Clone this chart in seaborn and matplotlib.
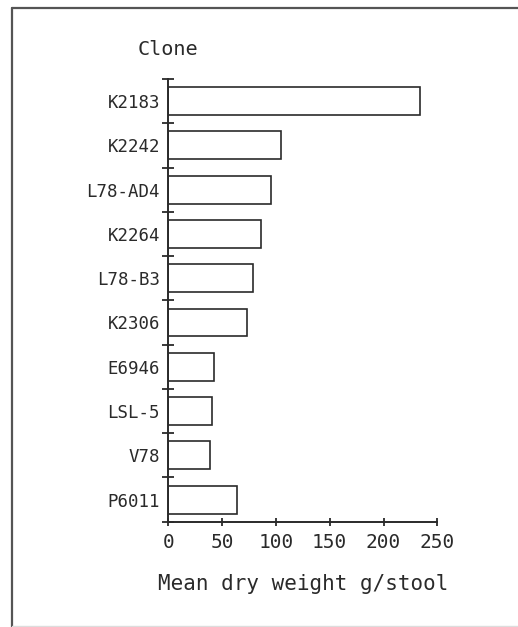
import matplotlib
matplotlib.use("Agg")
import matplotlib.pyplot as plt
from matplotlib.lines import Line2D
import seaborn as sns
import pandas as pd

clones = ["K2183", "K2242", "L78-AD4", "K2264", "L78-B3",
          "K2306", "E6946", "LSL-5", "V78", "P6011"]
dry_weight = [234, 105, 95, 86.5, 78.5, 73, 42.5, 40.5, 38.5, 64]
x_ticks = [0, 50, 100, 150, 200, 250]

df = pd.DataFrame({"clone": clones, "weight": dry_weight})

sns.set_theme(style="white")
plt.rcParams["font.family"] = ["DejaVu Sans Mono", "DejaVu Sans"]
ink = "#2a2a2a"

fig = plt.figure(figsize=(5.18, 6.27), dpi=100)
ax = fig.add_axes([168.3 / 518, 105.3 / 627, 269 / 518, 442.7 / 627])

sns.barplot(data=df, x="weight", y="clone", orient="h", color="white",
            edgecolor=ink, linewidth=1.2, width=0.63, saturation=1, ax=ax)

ax.set_xlim(0, 250)
ax.set_ylim(9.5, -0.5)
for s in ["top", "right"]:
    ax.spines[s].set_visible(False)
for s in ["left", "bottom"]:
    ax.spines[s].set_color(ink)
    ax.spines[s].set_linewidth(1.4)

ax.set_xticks(x_ticks)
ax.set_xticklabels([str(t) for t in x_ticks])
ax.tick_params(axis="x", direction="inout", length=6, width=1.3, color=ink,
               labelsize=14, labelcolor=ink, pad=5, bottom=True)
# category labels at bar centres, tick marks at the boundaries between bars
ax.tick_params(axis="y", which="major", length=0, labelsize=12.5,
               labelcolor=ink, pad=6, left=True)
ax.set_yticks([i - 0.5 for i in range(len(clones) + 1)], minor=True)
ax.tick_params(axis="y", which="minor", direction="inout", length=8,
               width=1.3, color=ink, left=True)

ax.set_xlabel("Mean dry weight g/stool", fontsize=15, color=ink, labelpad=16)
ax.set_ylabel("")
ax.text(0, 1.066, "Clone", transform=ax.transAxes, ha="center", va="center",
        fontsize=14.5, color=ink)

# surrounding frame: top and left drawn, bottom faint
fig.add_artist(Line2D([12 / 518, 12 / 518], [0, 1 - 8 / 627],
                      transform=fig.transFigure, color="#555555", lw=1.6))
fig.add_artist(Line2D([12 / 518, 1], [1 - 8 / 627, 1 - 8 / 627],
                      transform=fig.transFigure, color="#555555", lw=1.6))
fig.add_artist(Line2D([12 / 518, 1], [1.5 / 627, 1.5 / 627],
                      transform=fig.transFigure, color="#dddddd", lw=1.0))

fig.savefig("out.png", dpi=100, facecolor="white")
